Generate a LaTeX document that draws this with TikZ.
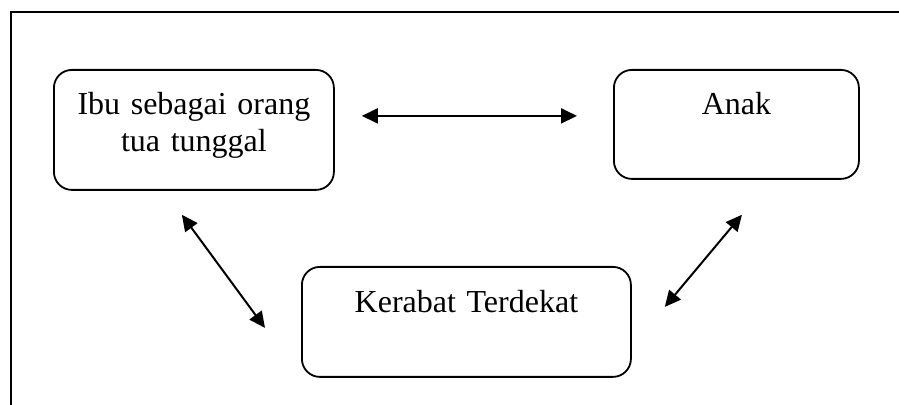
\documentclass[tikz,border=0pt]{standalone}
\usepackage{fontspec}
\setmainfont{Liberation Serif}
\usetikzlibrary{arrows.meta,calc}

\begin{document}
\begin{tikzpicture}[x=0.5pt,y=-0.5pt,
  box/.style={draw,line width=0.9pt,rounded corners=9pt,inner sep=0pt,
    align=center,anchor=north west,text height=22.5pt,
    font=\fontsize{16}{18.5}\selectfont},
  link/.style={{Triangle[length=8pt,width=7.5pt]}-{Triangle[length=8pt,width=7.5pt]},
    line width=1pt}]
  \useasboundingbox (0,0) rectangle (899,405);
  % frame
  \draw[line width=1.1pt] (11,405) |- (899,12);
  \node (ibu) [box,text width=140pt,text depth=37.5pt] at (53,69) {Ibu sebagai orang\\tua tunggal};
  \node (anak) [box,text width=122.5pt,text depth=32pt] at (613,69) {Anak};
  \node (kerabat) [box,text width=164.5pt,text depth=32pt,text height=23pt] at (301,266) {Kerabat Terdekat};
  \coordinate (i1) at ($(ibu.east)+(27,-14)$);
  \coordinate (a1) at ($(anak.west)+(-36,-8.5)$);
  \coordinate (i2) at ($(ibu.south)+(-12,24)$);
  \coordinate (k1) at ($(kerabat.west)+(-36,6)$);
  \coordinate (a2) at ($(anak.south)+(5.5,35)$);
  \coordinate (k2) at ($(kerabat.east)+(33,-15)$);
  \path[link]
    (i1) edge (a1)
    (i2) edge (k1)
    (a2) edge (k2);
\end{tikzpicture}
\end{document}
